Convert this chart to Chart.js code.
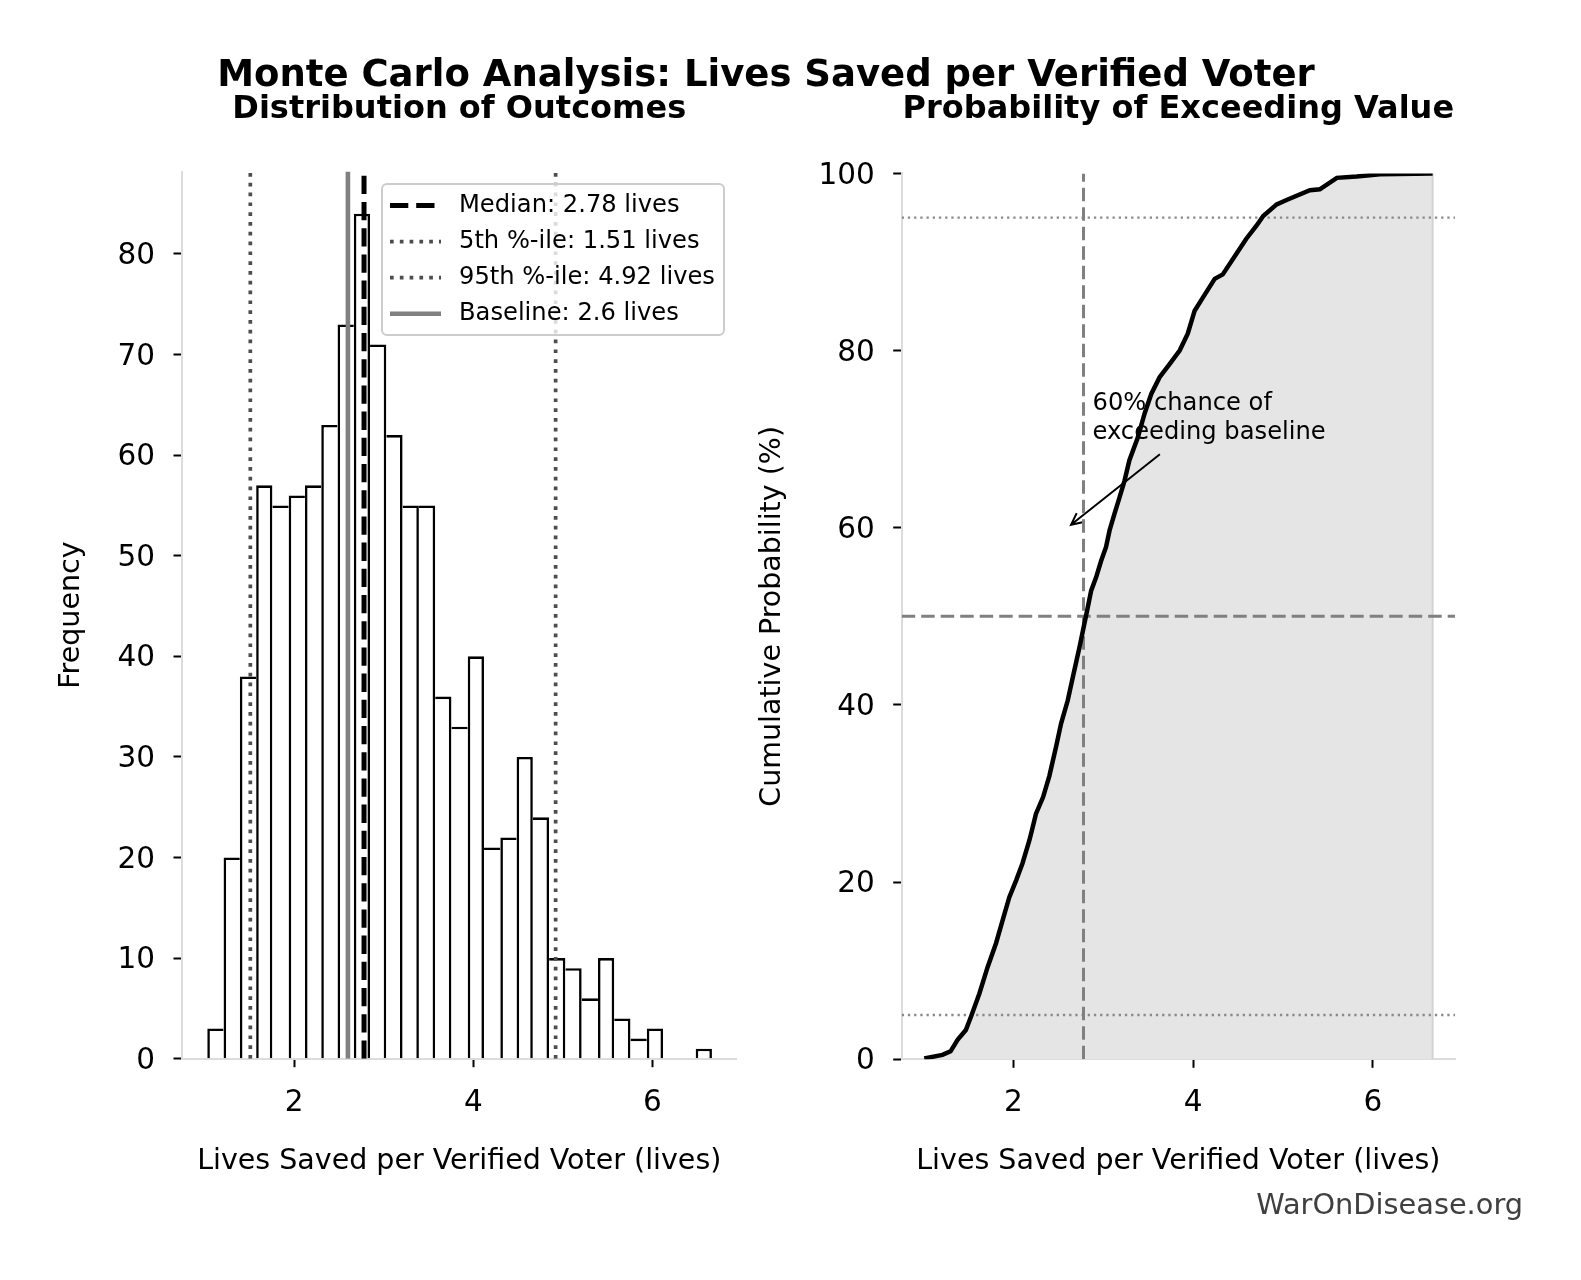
<!DOCTYPE html>
<html>
<head>
<meta charset="utf-8">
<script src="https://cdn.jsdelivr.net/npm/chart.js@4.4.1/dist/chart.umd.min.js"></script>
<style>
  html, body { margin: 0; padding: 0; background: #fff; }
  #wrap { position: relative; width: 1581px; height: 1280px; }
  #wrap canvas { position: absolute; left: 0; top: 0; }
</style>
</head>
<body>
<div id="wrap">
  <canvas id="histChart" width="1581" height="1280"></canvas>
  <canvas id="cdfChart" width="1581" height="1280"></canvas>
</div>
<script>
// textos
const mainTitle = 'Monte Carlo Analysis: Lives Saved per Verified Voter';
const leftTitle = 'Distribution of Outcomes';
const rightTitle = 'Probability of Exceeding Value';
const xTitle = 'Lives Saved per Verified Voter (lives)';
const watermark = 'WarOnDisease.org';
const noteLines = ['60% chance of', 'exceeding baseline'];

// histograma (bordes de los bins y frecuencias)
const binEdges = [1.029, 1.211, 1.393, 1.575, 1.757, 1.938, 2.120, 2.302, 2.484, 2.666,
  2.847, 3.029, 3.211, 3.393, 3.575, 3.756, 3.938, 4.120, 4.302, 4.484, 4.665,
  4.847, 5.029, 5.211, 5.393, 5.574, 5.756, 5.938, 6.120, 6.302, 6.484, 6.666];
const binCounts = [3, 20, 38, 57, 55, 56, 57, 63, 73, 84, 71, 62, 55, 55, 36, 33, 40,
  21, 22, 30, 24, 10, 9, 6, 10, 4, 2, 3, 0, 0, 1];

const medianValue = 2.78;
const p5Value = 1.51;
const p95Value = 4.92;
const baselineValue = 2.6;

// curva acumulada
const cdfX = [1.007, 1.21, 1.30, 1.378, 1.47, 1.527, 1.62, 1.712, 1.806, 1.88, 1.954,
  2.03, 2.10, 2.177, 2.214, 2.25, 2.33, 2.40, 2.475, 2.53, 2.604, 2.66, 2.735, 2.79,
  2.827, 2.865, 2.92, 2.977, 3.03, 3.07, 3.125, 3.18, 3.236, 3.29, 3.385, 3.46, 3.534,
  3.627, 3.74, 3.85, 3.94, 4.017, 4.11, 4.24, 4.33, 4.48, 4.59, 4.705, 4.78, 4.93,
  5.04, 5.30, 5.41, 5.60, 5.82, 6.08, 6.666];
const cdfY = [0.1, 0.5, 0.9, 2.2, 3.3, 4.8, 7.4, 10.4, 13.1, 15.7, 18.3,
  20.2, 22.1, 24.7, 26.2, 27.7, 29.6, 32.0, 35.3, 37.9, 40.5, 43.1, 46.5, 49.2,
  51.0, 52.9, 54.4, 56.3, 57.8, 59.7, 61.6, 63.4, 65.3, 67.6, 70.2, 72.9, 75.1,
  77.0, 78.5, 80.0, 81.9, 84.5, 86.0, 88.1, 88.6, 90.9, 92.6, 94.1, 95.2, 96.5,
  97.0, 98.1, 98.2, 99.5, 99.65, 99.9, 100];
const refLevels = [5, 50, 95];
const notePoint = [2.6, 60];
const noteText = [2.88, 70];
const noteFrom = [3.63, 68.3];

// ejes
const xTicks = [2, 4, 6];
const freqTicks = [0, 10, 20, 30, 40, 50, 60, 70, 80];
const probTicks = [0, 20, 40, 60, 80, 100];
const histXRange = [0.747, 6.94];
const histYMax = 88.2;
const cdfXRange = [0.756, 6.915];

Chart.defaults.font.family = "'DejaVu Sans'";
Chart.defaults.color = '#000';
Chart.defaults.animation = false;

const textPlugin = {
    id: 'figText',
    afterDraw(chart, args, opts) {
        const ctx = chart.ctx;
        (opts.items || []).forEach(t => {
            ctx.save();
            ctx.font = t.font;
            ctx.fillStyle = t.color || '#000';
            ctx.textAlign = t.align || 'center';
            ctx.textBaseline = 'alphabetic';
            const x = t.x === 'area' ? (chart.chartArea.left + chart.chartArea.right) / 2 : t.x;
            ctx.fillText(t.text, x, t.y);
            ctx.restore();
        });
    }
};

const boxLegend = {
    id: 'boxLegend',
    afterDatasetsDraw(chart, args, o) {
        const ctx = chart.ctx;
        ctx.save();
        ctx.beginPath();
        ctx.roundRect(o.left, o.top, o.width, o.height, 5);
        ctx.fillStyle = 'rgba(255,255,255,0.8)';
        ctx.fill();
        ctx.lineWidth = 2;
        ctx.strokeStyle = '#cccccc';
        ctx.stroke();
        const items = chart.data.datasets.filter(d => d.label);
        items.forEach((d, i) => {
            const y = o.top + o.firstRow + i * o.rowGap;
            ctx.beginPath();
            ctx.setLineDash(d.borderDash || []);
            ctx.lineWidth = d.borderWidth;
            ctx.strokeStyle = d.borderColor;
            ctx.moveTo(o.handleX, y);
            ctx.lineTo(o.handleX + o.handleLen, y);
            ctx.stroke();
            ctx.setLineDash([]);
            ctx.fillStyle = '#000';
            ctx.font = o.font;
            ctx.textAlign = 'left';
            ctx.textBaseline = 'middle';
            ctx.fillText(d.label, o.textX, y);
        });
        ctx.restore();
    }
};

const arrowNote = {
    id: 'arrowNote',
    beforeDatasetsDraw(chart, args, o) {
        const xs = chart.scales.x, ys = chart.scales.y, ctx = chart.ctx;
        ctx.save();
        const tx = xs.getPixelForValue(o.textAt[0]);
        const ty = ys.getPixelForValue(o.textAt[1]);
        ctx.font = o.font;
        ctx.fillStyle = '#000';
        ctx.textAlign = 'left';
        ctx.textBaseline = 'alphabetic';
        o.lines.forEach((l, i) => ctx.fillText(l, tx, ty - (o.lines.length - 1 - i) * o.lineGap));

        const x0 = xs.getPixelForValue(o.from[0]), y0 = ys.getPixelForValue(o.from[1]);
        let x1 = xs.getPixelForValue(o.to[0]), y1 = ys.getPixelForValue(o.to[1]);
        const a = Math.atan2(y1 - y0, x1 - x0);
        x1 -= o.shrink * Math.cos(a);
        y1 -= o.shrink * Math.sin(a);
        ctx.strokeStyle = '#000';
        ctx.lineWidth = 2;
        ctx.beginPath();
        ctx.moveTo(x0, y0);
        ctx.lineTo(x1, y1);
        ctx.moveTo(x1 - 13 * Math.cos(a - 0.45), y1 - 13 * Math.sin(a - 0.45));
        ctx.lineTo(x1, y1);
        ctx.lineTo(x1 - 13 * Math.cos(a + 0.45), y1 - 13 * Math.sin(a + 0.45));
        ctx.stroke();
        ctx.restore();
    }
};

function vline(x, y0, y1, style) {
    return Object.assign({ type: 'line', data: [{ x: x, y: y0 }, { x: x, y: y1 }], pointRadius: 0, fill: false, tension: 0 }, style);
}
function hline(y, x0, x1, style) {
    return Object.assign({ type: 'line', data: [{ x: x0, y: y }, { x: x1, y: y }], pointRadius: 0, fill: false, tension: 0 }, style);
}

const tickFont = { size: 29.5 };
const titleFont = { size: 28.5 };
const edgeW = 2.6;

// ---------- histograma ----------
const histBars = binCounts.map((c, i) => ({ x: (binEdges[i] + binEdges[i + 1]) / 2, y: c }));

new Chart(document.getElementById('histChart'), {
    type: 'bar',
    data: {
        datasets: [
            vline(medianValue, 0, histYMax, { label: `Median: ${medianValue} lives`, borderColor: '#000', borderWidth: 5, borderDash: [18.3, 7.9], order: 1 }),
            vline(p5Value, 0, histYMax, { label: `5th %-ile: ${p5Value} lives`, borderColor: '#4d4d4d', borderWidth: 3.7, borderDash: [3.7, 6.1], order: 2 }),
            vline(p95Value, 0, histYMax, { label: `95th %-ile: ${p95Value} lives`, borderColor: '#4d4d4d', borderWidth: 3.7, borderDash: [3.7, 6.1], order: 3 }),
            vline(baselineValue, 0, histYMax, { label: `Baseline: ${baselineValue} lives`, borderColor: '#808080', borderWidth: 4.6, order: 4 }),
            {
                type: 'bar',
                data: histBars,
                backgroundColor: '#ffffff',
                borderColor: '#000000',
                borderSkipped: 'start',
                inflateAmount: 0,
                barPercentage: 1,
                categoryPercentage: 1,
                order: 10,
                borderWidth: ctx => {
                    const i = ctx.dataIndex;
                    const cur = binCounts[i];
                    const prev = i > 0 ? binCounts[i - 1] : -1;
                    const next = i < binCounts.length - 1 ? binCounts[i + 1] : -1;
                    return { top: edgeW, bottom: 0, left: prev >= cur ? 0 : edgeW, right: next > cur ? 0 : edgeW };
                }
            }
        ]
    },
    options: {
        responsive: false,
        events: [],
        layout: { padding: { left: 0, top: 171.5, right: 1581 - 736.5, bottom: 0 } },
        scales: {
            x: {
                type: 'linear',
                min: histXRange[0],
                max: histXRange[1],
                offset: false,
                afterFit: s => { s.height = 1280 - 1058.7; },
                afterBuildTicks: s => { s.ticks = xTicks.map(v => ({ value: v })); },
                grid: { display: true, drawOnChartArea: false, offset: false, tickLength: 8.5, tickWidth: 2, tickColor: '#000' },
                border: { display: true, color: '#dcdcdc', width: 2 },
                ticks: { font: tickFont, padding: 18, maxRotation: 0 },
                title: { display: true, text: xTitle, font: titleFont, padding: { top: 0, bottom: 101 } }
            },
            y: {
                min: 0,
                max: histYMax,
                afterFit: s => { s.width = 182; },
                afterBuildTicks: s => { s.ticks = freqTicks.map(v => ({ value: v })); },
                grid: { display: true, drawOnChartArea: false, tickLength: 8.5, tickWidth: 2, tickColor: '#000' },
                border: { display: true, color: '#dcdcdc', width: 2 },
                ticks: { font: tickFont, padding: 18.5, labelOffset: 2.5 },
                title: { display: true, text: 'Frequency', font: titleFont, padding: { top: 54, bottom: 0 } }
            }
        },
        plugins: {
            legend: { display: false },
            tooltip: { enabled: false },
            boxLegend: { left: 382, top: 184, width: 342, height: 151, firstRow: 21.5, rowGap: 36.1, handleX: 390, handleLen: 51, textX: 459, font: '24.2px "DejaVu Sans"' },
            figText: {
                items: [
                    { text: mainTitle, x: 766, y: 86, font: 'bold 37px "DejaVu Sans"' },
                    { text: leftTitle, x: 'area', y: 118, font: 'bold 32px "DejaVu Sans"' }
                ]
            }
        }
    },
    plugins: [boxLegend, textPlugin]
});

// ---------- probabilidad acumulada ----------
const cdfPoints = cdfX.map((x, i) => ({ x: x, y: cdfY[i] }));
const lastX = cdfX[cdfX.length - 1];

new Chart(document.getElementById('cdfChart'), {
    type: 'line',
    data: {
        datasets: [
            {
                data: cdfPoints,
                borderColor: '#000',
                borderWidth: 4.5,
                pointRadius: 0,
                tension: 0,
                fill: 'origin',
                backgroundColor: '#e5e5e5',
                order: 0
            },
            vline(lastX, 0, 100, { borderColor: '#d3d3d3', borderWidth: 2, order: 6 }),
            vline(medianValue, 0, 100, { borderColor: '#808080', borderWidth: 3, borderDash: [13.5, 6], order: 2 }),
            hline(refLevels[1], cdfXRange[0], cdfXRange[1], { borderColor: '#808080', borderWidth: 3, borderDash: [13.5, 6], order: 3 }),
            hline(refLevels[2], cdfXRange[0], cdfXRange[1], { borderColor: '#8a8a8a', borderWidth: 2.3, borderDash: [2.3, 3.9], order: 4 }),
            hline(refLevels[0], cdfXRange[0], cdfXRange[1], { borderColor: '#8a8a8a', borderWidth: 2.3, borderDash: [2.3, 3.9], order: 5 })
        ]
    },
    options: {
        responsive: false,
        events: [],
        layout: { padding: { left: 720, top: 173.4, right: 1581 - 1455, bottom: 0 } },
        scales: {
            x: {
                type: 'linear',
                min: cdfXRange[0],
                max: cdfXRange[1],
                afterFit: s => { s.height = 1280 - 1059.3; },
                afterBuildTicks: s => { s.ticks = xTicks.map(v => ({ value: v })); },
                grid: { display: true, drawOnChartArea: false, tickLength: 8.5, tickWidth: 2, tickColor: '#000' },
                border: { display: true, color: '#dcdcdc', width: 2 },
                ticks: { font: tickFont, padding: 18, maxRotation: 0 },
                title: { display: true, text: xTitle, font: titleFont, padding: { top: 0, bottom: 101 } }
            },
            y: {
                min: 0,
                max: 100,
                afterFit: s => { s.width = 901.7 - 720; },
                afterBuildTicks: s => { s.ticks = probTicks.map(v => ({ value: v })); },
                grid: { display: true, drawOnChartArea: false, tickLength: 8.5, tickWidth: 2, tickColor: '#000' },
                border: { display: true, color: '#dcdcdc', width: 2 },
                ticks: { font: tickFont, padding: 18.5, labelOffset: 2.5 },
                title: { display: true, text: 'Cumulative Probability (%)', font: titleFont, padding: { top: 35.5, bottom: 0 } }
            }
        },
        plugins: {
            legend: { display: false },
            tooltip: { enabled: false },
            filler: { drawTime: 'beforeDatasetsDraw' },
            arrowNote: { lines: noteLines, textAt: noteText, lineGap: 29, from: noteFrom, to: notePoint, shrink: 4.7, font: '24.2px "DejaVu Sans"' },
            figText: {
                items: [
                    { text: rightTitle, x: 'area', y: 118, font: 'bold 32px "DejaVu Sans"' },
                    { text: watermark, x: 1523, y: 1214, align: 'right', color: '#404040', font: '28.8px "DejaVu Sans"' }
                ]
            }
        }
    },
    plugins: [arrowNote, textPlugin]
});
</script>
</body>
</html>
